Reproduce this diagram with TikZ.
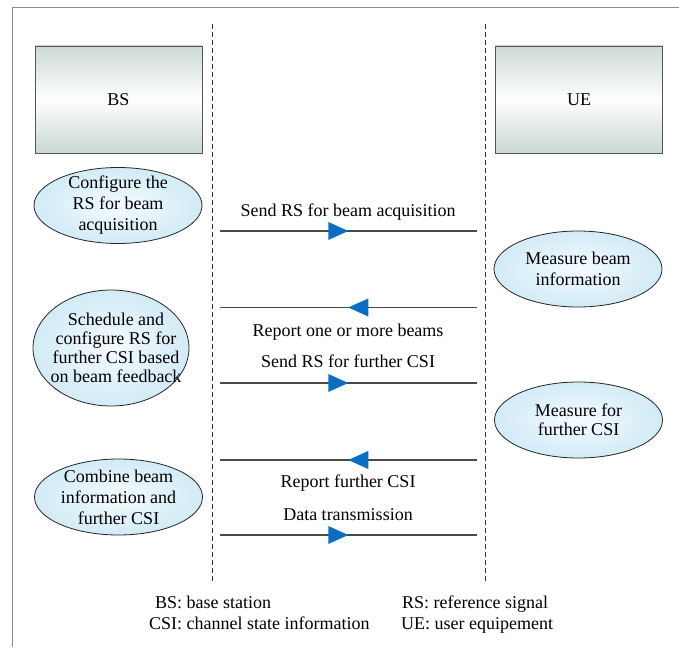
\documentclass[tikz,border=0pt]{standalone}
\usepackage{fontspec}
\setmainfont{Liberation Serif}
\newfontfamily\diagfont{Liberation Serif}
\usetikzlibrary{shapes.geometric,decorations.markings}
\definecolor{framegray}{HTML}{8A8A8A}
\definecolor{linegray}{HTML}{4A4A4A}
\definecolor{boxedge}{HTML}{555555}
\definecolor{arrowblue}{HTML}{0A6FC2}
\definecolor{boxtop}{HTML}{CCDAD2}
\definecolor{boxbot}{HTML}{C9D8CF}
\definecolor{ellin}{HTML}{F4FBFE}
\definecolor{ellout}{HTML}{D2EBF6}
\begin{document}
\begin{tikzpicture}[x=1pt,y=-1pt,
  font=\diagfont\fontsize{18}{21}\selectfont,
  entity/.style={draw=boxedge, line width=0.9pt, minimum width=167pt, minimum height=107pt,
    inner sep=0pt, top color=boxtop, bottom color=boxbot, middle color=white},
  task/.style={ellipse, draw=black!85, line width=0.8pt, inner color=ellin, outer color=ellout,
    minimum width=168pt, minimum height=76pt, inner sep=0pt},
  tasktext/.style={align=center, inner sep=0pt, font=\diagfont\fontsize{18}{#1}\selectfont},
  lifeline/.style={draw=black!80, line width=0.8pt, dash pattern=on 5pt off 3pt},
  msg/.style={draw=linegray, line width=1.2pt, postaction={decorate},
    decoration={markings, mark=at position 0.5 with {\fill[arrowblue] (0pt,0pt) -- (-20pt,9pt) -- (-20pt,-9pt) -- cycle;}}},
  msglabel/.style={anchor=base, inner sep=0pt},
  legend/.style={anchor=base west, inner sep=0pt}]
\useasboundingbox (0,0) rectangle (679,647);
\fill[white] (0,0) rectangle (679,647);
% frame
\draw[framegray, line width=1.6pt] (679,7.5) -- (12.5,7.5) -- (12.5,647);

% lifelines
\coordinate (bstop) at (212,24);
\coordinate (bsbot) at (212,581);
\coordinate (uetop) at (485.5,24);
\coordinate (uebot) at (485.5,581);
\draw[lifeline] (bstop) -- (bsbot);
\draw[lifeline] (uetop) -- (uebot);

% entities
\node[entity] (bs) at (118.5,99.5) {BS};
\node[entity] (ue) at (579,99.5) {UE};

% BS tasks
\node[task, label={[tasktext=21]center:Configure the\\RS for beam\\acquisition}] (t1) at (118,205.5) {};
\node[task, minimum width=156pt, minimum height=116pt,
  label={[tasktext=19, xshift=5pt]center:Schedule and\\configure RS for\\further CSI based\\on beam feedback}] (t2) at (111,348) {};
\node[task, label={[tasktext=21]center:Combine beam\\information and\\further CSI}] (t3) at (118.5,497) {};

% UE tasks
\node[task, label={[tasktext=21]center:Measure beam\\information}] (u1) at (578,269) {};
\node[task, label={[tasktext=19]center:Measure for\\further CSI}] (u2) at (578.5,420) {};

% message end points
\coordinate (m1l) at (220,231);   \coordinate (m1r) at (476.5,231);
\coordinate (m2l) at (220,307.5); \coordinate (m2r) at (476.5,307.5);
\coordinate (m3l) at (220,383);   \coordinate (m3r) at (476.5,383);
\coordinate (m4l) at (220,460);   \coordinate (m4r) at (476.5,460);
\coordinate (m5l) at (220,535);   \coordinate (m5r) at (476.5,535);

\draw[msg] (m1l) -- (m1r);
\draw[msg] (m2r) -- (m2l);
\draw[msg] (m3l) -- (m3r);
\draw[msg] (m4r) -- (m4l);
\draw[msg] (m5l) -- (m5r);

% message labels
\node[msglabel] (l1) at (348,216) {Send RS for beam acquisition};
\node[msglabel] (l2) at (348,336) {Report one or more beams};
\node[msglabel] (l3) at (348,367) {Send RS for further CSI};
\node[msglabel] (l4) at (348,487) {Report further CSI};
\node[msglabel] (l5) at (348,520) {Data transmission};

% legend
\node[legend] (g1) at (155,608) {BS: base station};
\node[legend] (g2) at (149,629) {CSI: channel state information};
\node[legend] (g3) at (402,608) {RS: reference signal};
\node[legend] (g4) at (401,629) {UE: user equipement};
\end{tikzpicture}
\end{document}
